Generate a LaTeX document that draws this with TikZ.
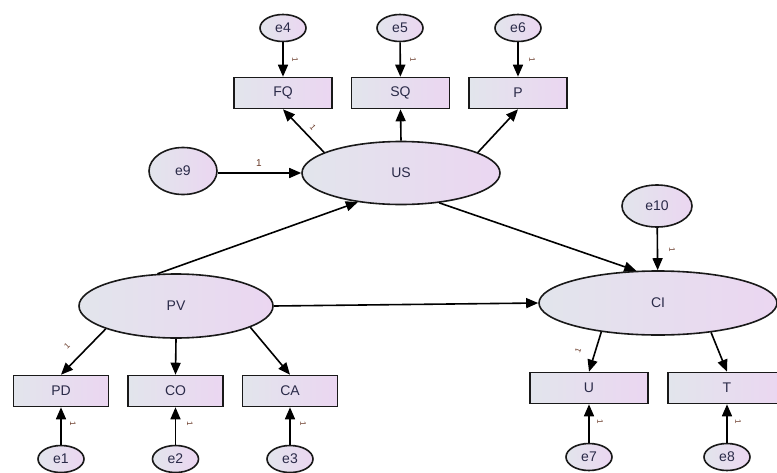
\documentclass[tikz,border=0pt]{standalone}
\usepackage{fontspec}
\setmainfont{Liberation Sans}
\usetikzlibrary{arrows.meta,shapes.geometric}
\definecolor{fillL}{HTML}{E2E5EC}
\definecolor{fillR}{HTML}{EBD6F1}
\definecolor{txt}{HTML}{2A2A48}
\definecolor{onec}{HTML}{6A3A28}
\tikzset{
  base/.style={draw=black!90, line width=1.6pt, left color=fillL, right color=fillR, text=txt, font=\fontsize{14}{14}\selectfont, inner sep=0pt},
  obs/.style={base, rectangle, minimum width=98pt, minimum height=31pt},
  lat/.style={base, ellipse, minimum width=198pt, minimum height=63pt},
  err/.style={base, ellipse, minimum width=46pt, minimum height=27pt},
  conn/.style={line width=1.6pt, draw=black, -{Triangle[length=12pt,width=10pt]}},
  one/.style={font=\fontsize{8}{8}\selectfont, text=onec, inner sep=0pt},
}
\begin{document}
\begin{tikzpicture}[x=1pt,y=-1pt]
\clip (0,0) rectangle (777,472);
\fill[white] (0,0) rectangle (777,472);
% top indicators
\node[obs] (FQ) at (283,93) {FQ};
\node[obs] (SQ) at (400.5,93) {SQ};
\node[obs] (P) at (518,93) {P};
\node[err] (e4) at (283,28) {e4};
\node[err] (e5) at (400,28) {e5};
\node[err] (e6) at (518,28) {e6};
% latents
\node[lat] (US) at (401,173) {US};
\node[lat, minimum width=194pt, minimum height=64pt] (PV) at (176,306) {PV};
\node[lat, minimum width=238pt, minimum height=64pt] (CI) at (658,303) {CI};
\node[err, minimum width=68pt, minimum height=47pt] (e9) at (183,171) {e9};
\node[err, minimum width=70pt, minimum height=42pt] (e10) at (657,206) {e10};
% bottom indicators
\node[obs, minimum width=95pt] (PD) at (61,391) {PD};
\node[obs, minimum width=95pt] (CO) at (175.5,391) {CO};
\node[obs, minimum width=95pt] (CA) at (290,391) {CA};
\node[obs, minimum width=118pt] (U) at (589,388) {U};
\node[obs, minimum width=118pt] (T) at (727,388) {T};
\node[err] (e1) at (61,459) {e1};
\node[err] (e2) at (175.5,459) {e2};
\node[err] (e3) at (290,459) {e3};
\node[err] (e7) at (589,457) {e7};
\node[err] (e8) at (727,457) {e8};
% connectors
\draw[conn] (e4) -- (FQ);
\draw[conn] (e5) -- (SQ);
\draw[conn] (e6) -- (P);
\draw[conn] (US.165) -- (FQ.south);
\draw[conn] (US.north) -- (SQ.south);
\draw[conn] (US.15) -- (P.south);
\draw[conn] (e9.east |- US.west) -- (US.west);
\draw[conn] (PV.120) -- (US.214);
\draw[conn] (US.322) -- (CI.124);
\draw[conn] (PV.east) -- (CI.west);
\draw[conn] (e10) -- (CI);
\draw[conn] (CI.207) -- (U.north);
\draw[conn] (CI.331) -- (T.north);
\draw[conn] (PV.198) -- (PD.north);
\draw[conn] (PV.south) -- (CO.north);
\draw[conn] (PV.344) -- (CA.north);
\draw[conn] (e1) -- (PD);
\draw[conn] (e2) -- (CO);
\draw[conn] (e3) -- (CA);
\draw[conn] (e7) -- (U);
\draw[conn] (e8) -- (T);
% fixed-parameter labels
\node[one, rotate=-90] (l4) at (295,60) {1};
\node[one, rotate=-90] (l5) at (413,60) {1};
\node[one, rotate=-90] (l6) at (532,60) {1};
\node[one, font=\fontsize{10}{10}\selectfont] (l9) at (259,163) {1};
\node[one, rotate=-50] (lfq) at (313,127) {1};
\node[one, rotate=-90] (l10) at (672,250) {1};
\node[one, rotate=70] (lu) at (578,350) {1};
\node[one, rotate=45] (lpd) at (67,346) {1};
\node[one, rotate=-90] (l1) at (73,424) {1};
\node[one, rotate=-90] (l2) at (190,424) {1};
\node[one, rotate=-90] (l3) at (303,424) {1};
\node[one, rotate=-90] (l7) at (600,422) {1};
\node[one, rotate=-90] (l8) at (738,422) {1};
\end{tikzpicture}
\end{document}
